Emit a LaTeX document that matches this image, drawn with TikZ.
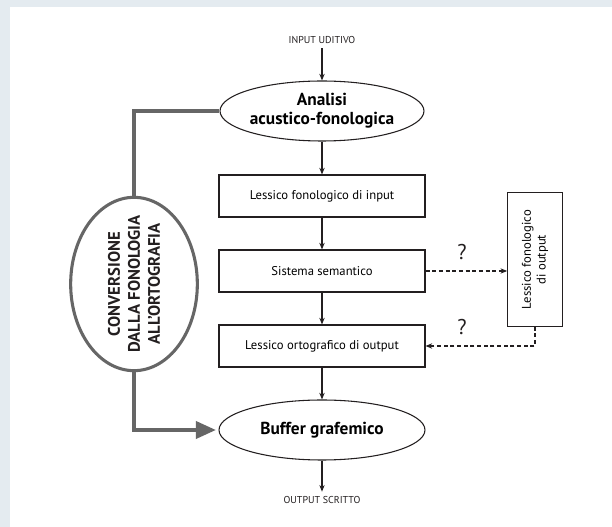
\documentclass[tikz,border=0pt]{standalone}
\usepackage{fontspec}
\setmainfont{PT Sans}
\usetikzlibrary{shapes.geometric,arrows.meta}
\definecolor{bgblue}{HTML}{E4EBF0}
\definecolor{linegray}{HTML}{666666}
\definecolor{ink}{HTML}{231F20}
\tikzset{
  box/.style={draw=ink, line width=0.8pt, minimum width=154.5pt, minimum height=31.5pt, font=\fontsize{9.5}{11}\selectfont},
  oval/.style={draw=ink, ellipse, line width=0.8pt, font=\bfseries\fontsize{13}{14}\selectfont, align=center, inner sep=0pt},
  flow/.style={-{Stealth[length=5pt,width=4pt]}, draw=ink, line width=0.8pt},
  dashflow/.style={flow, dashed, dash pattern=on 3pt off 2pt},
  grayline/.style={draw=linegray, line width=2.3pt},
  caps/.style={font=\fontsize{7.5}{9}\selectfont, text=ink},
  query/.style={font=\fontsize{16}{18}\selectfont, text=ink}
}
\begin{document}
\begin{tikzpicture}[x=0.75pt, y=-0.75pt]
        \useasboundingbox (0,0) rectangle (612,527);
        \fill[bgblue] (0,0) rectangle (612,527);
        \fill[white] (10,7) rectangle (612,527);

        \node[caps] (input) at (322,40) {INPUT UDITIVO};
        \node[oval, minimum width=152pt, minimum height=45pt] (analisi) at (322,111) {Analisi\\acustico-fonologica};
        \node[box] (lessin) at (322,196) {Lessico fonologico di input};
        \node[box] (sistema) at (322,271) {Sistema semantico};
        \node[box] (lessort) at (322,346) {Lessico ortografico di output};
        \node[oval, minimum width=154.5pt, minimum height=45pt] (buffer) at (322,430) {Buffer grafemico};
        \node[caps] (output) at (322,500) {OUTPUT SCRITTO};

        \node[draw=linegray, line width=2.3pt, ellipse, minimum width=95pt, minimum height=130pt, inner sep=0pt] (conv) at (134,284) {};
        \node[rotate=90, align=center, font=\bfseries\fontsize{12.5}{15}\selectfont, text=ink] (convtext) at (134,284) {CONVERSIONE\\DALLA FONOLOGIA\\ALL'ORTOGRAFIA};

        \node[box, minimum width=100pt, minimum height=41pt, rotate=90, align=center, inner sep=2pt] (lessout) at (535,259.5) {Lessico fonologico\\di output};

        \node[query] (q1) at (462,252) {?};
        \node[query] (q2) at (462,327) {?};

        \draw[flow] (input) -- (analisi);
        \draw[flow] (analisi) -- (lessin);
        \draw[flow] (lessin) -- (sistema);
        \draw[flow] (sistema) -- (lessort);
        \draw[flow] (lessort) -- (buffer);
        \draw[flow] (buffer) -- (output);

        % lessout is turned, so its north is its left side
        \draw[dashflow] (sistema.east) -- (sistema.east -| lessout.north);
        \draw[dashflow] (lessout.west) |- (lessort.east);

        \draw[grayline] (analisi.west) -| (conv.north);
        \draw[grayline, -{Triangle[length=15pt,width=13pt]}, shorten >=2pt] (conv.south) |- (buffer.west);
\end{tikzpicture}
\end{document}
